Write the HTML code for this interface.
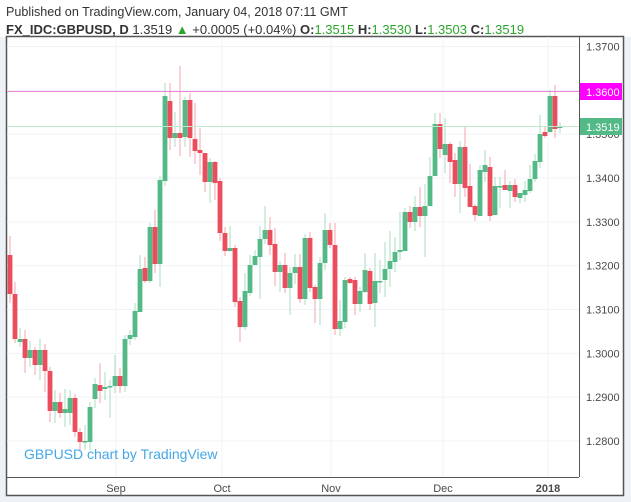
<!DOCTYPE html>
<html><head><meta charset="utf-8"><style>
body{margin:0;width:631px;height:502px;overflow:hidden;background:#fff;font-family:"Liberation Sans",sans-serif}
</style></head><body>
<svg id="s" width="631" height="502" xmlns="http://www.w3.org/2000/svg" style="position:absolute;left:0;top:0">
<rect x="0" y="0" width="631" height="502" fill="#fff"/>
<rect x="0" y="37" width="7" height="465" fill="#eef1f5"/>
<rect x="623" y="37" width="8" height="465" fill="#eef1f5"/>
<rect x="0" y="495" width="631" height="7" fill="#eef1f5"/>
<rect x="6.5" y="36.5" width="617" height="459" fill="#fff" stroke="#555" stroke-width="1.5"/>
<g id="grid" stroke="#f0f3f7" stroke-width="1"></g>
<g id="c"></g>
<line x1="7" y1="91.5" x2="579" y2="91.5" stroke="#ee82d8" stroke-width="1"/>
<line x1="7" y1="126.5" x2="579" y2="126.5" stroke="#bfe8cf" stroke-width="1"/>
<line x1="579.5" y1="37" x2="579.5" y2="477" stroke="#555"/>
<line x1="7" y1="477.5" x2="579" y2="477.5" stroke="#555"/>
<g id="ax" font-size="11" fill="#4a4a4a"></g>
<rect x="580" y="83" width="42" height="17" fill="#f0f"/>
<text x="586" y="96" font-size="11" fill="#fff">1.3600</text>
<rect x="580" y="118" width="42" height="17" fill="#53b987"/>
<text x="586" y="131" font-size="11" fill="#fff">1.3519</text>
<g font-size="11" fill="#4a4a4a">
<text x="116" y="492" text-anchor="middle">Sep</text>
<text x="222" y="492" text-anchor="middle">Oct</text>
<text x="331" y="492" text-anchor="middle">Nov</text>
<text x="443" y="492" text-anchor="middle">Dec</text>
<text x="548" y="492" text-anchor="middle" font-weight="bold">2018</text>
</g>
<text x="24" y="459" font-size="14" fill="#45a8e6">GBPUSD chart by TradingView</text>
<text x="6" y="16" font-size="12.6" fill="#333">Published on TradingView.com, January 04, 2018 07:11 GMT</text>
<text x="6" y="34" font-size="13" fill="#333"><tspan font-weight="bold">FX_IDC:GBPUSD, D</tspan> 1.3519 <tspan fill="#2aa52a">▲</tspan> +0.0005 (+0.04%) <tspan font-weight="bold">O:</tspan><tspan fill="#2aa52a">1.3515</tspan> <tspan font-weight="bold">H:</tspan><tspan fill="#2aa52a">1.3530</tspan> <tspan font-weight="bold">L:</tspan><tspan fill="#2aa52a">1.3503</tspan> <tspan font-weight="bold">C:</tspan><tspan fill="#2aa52a">1.3519</tspan></text>
</svg>
<script>
var D=[[255,294,236,303],[294,339,282,343],[342,339,328,347],[339,358,330,373],[358,350,341,367],[350,365,347,375],[365,350,339,380],[350,371,344,392],[371,411,367,422],[411,402,390,423],[402,413,393,418],[413,409,389,427],[413,398,390,425],[398,432,394,437],[432,442,428,450],[442,441,425,450],[442,407,402,450],[399,384,378,408],[385,391,363,403],[389,387,372,400],[387,386,380,418],[386,376,355,393],[376,386,368,393],[386,339,335,392],[339,335,330,345],[337,311,303,340],[312,269,255,282],[268,281,257,283],[281,227,223,283],[227,264,210,273],[264,180,176,287],[181,96,83,186],[101,138,83,150],[138,133,112,147],[133,138,66,156],[137,100,97,147],[100,138,93,157],[139,151,103,164],[150,153,128,175],[153,182,153,192],[182,162,158,203],[162,183,161,200],[181,233,178,241],[233,251,227,256],[251,248,226,252],[248,302,245,307],[301,327,297,342],[327,291,273,330],[293,265,255,296],[265,256,250,258],[257,239,226,299],[239,230,206,244],[230,245,217,255],[244,272,228,286],[272,265,261,292],[265,288,253,293],[288,273,267,315],[273,267,254,284],[267,299,254,303],[299,238,234,305],[238,288,232,292],[287,299,285,323],[299,263,257,325],[263,230,213,270],[230,245,223,248],[245,329,223,335],[329,321,300,336],[322,280,277,328],[279,283,277,284],[280,304,277,315],[304,291,287,312],[292,270,253,293],[271,304,268,310],[303,281,253,327],[282,281,260,293],[280,269,242,297],[269,261,231,287],[262,252,237,272],[252,250,212,260],[251,212,208,251],[212,222,206,228],[222,207,196,231],[207,216,187,227],[216,206,184,257],[206,176,157,206],[176,124,113,176],[124,149,113,158],[155,144,118,173],[144,162,142,183],[160,184,153,197],[184,147,141,213],[147,188,126,197],[186,207,164,207],[206,215,204,221],[216,170,165,216],[172,165,150,182],[167,216,157,221],[215,186,177,215],[186,186,177,208],[185,190,170,190],[191,185,181,208],[185,197,179,202],[198,193,193,203],[195,190,181,202],[191,179,165,193],[179,161,154,182],[162,134,115,168],[132,136,127,138],[132,96,90,133],[96,129,85,138],[128,126,122,133]];
var g=document.getElementById('c'),h='';
D.forEach(function(d,i){var x=10+5*i,up=d[1]<=d[0],col=up?'#53b987':'#eb4d5c',wc=up?'#a8dcc0':'#f5a6ad';
var t=Math.min(d[0],d[1]),b=Math.max(d[0],d[1]);
h+='<line x1="'+x+'" x2="'+x+'" y1="'+d[2]+'" y2="'+d[3]+'" stroke="'+wc+'" stroke-width="1"/>';
h+='<rect x="'+(x-2.4)+'" y="'+t+'" width="4.8" height="'+Math.max(b-t,1.5)+'" fill="'+col+'"/>';});
g.innerHTML=h;
var gr='',ax='';
for(var k=0;k<10;k++){var y=441-k*43.83;gr+='<line x1="7" x2="579" y1="'+y+'" y2="'+y+'"/>';
ax+='<text x="586" y="'+(y+4)+'">'+(1.28+k*0.01).toFixed(4)+'</text>';}
[116,222,331,443,548].forEach(function(x){gr+='<line x1="'+x+'" x2="'+x+'" y1="37" y2="477"/>';});
document.getElementById('grid').innerHTML=gr;document.getElementById('ax').innerHTML=ax;
</script>
</body></html>
